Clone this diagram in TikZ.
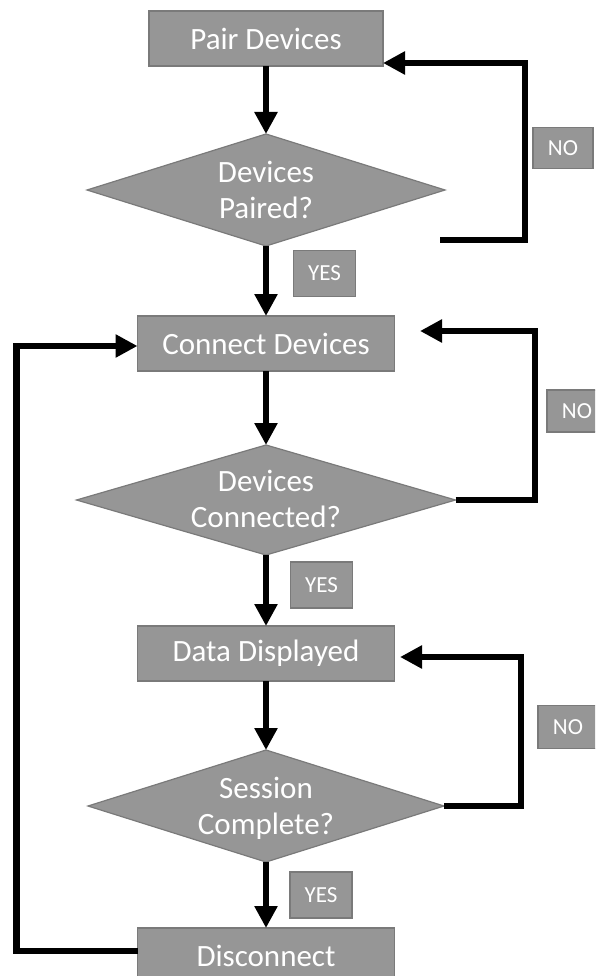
\documentclass[tikz,border=0pt]{standalone}
\usepackage{fontspec}
\setmainfont{Carlito}
\usetikzlibrary{shapes.geometric,arrows.meta}
\definecolor{boxfill}{RGB}{150,150,150}
\definecolor{boxline}{RGB}{122,122,122}
\tikzset{
 procbox/.style={rectangle, fill=boxfill, draw=boxline, line width=1.2pt, minimum width=257pt, minimum height=55pt, inner sep=0pt, outer sep=0pt, text=white, font=\fontsize{31}{36}\selectfont},
 decbox/.style={diamond, fill=boxfill, draw=boxline, line width=1.2pt, inner sep=0pt, outer sep=0pt},
 dectext/.style={text=white, font=\fontsize{31}{36}\selectfont, align=center, inner sep=0pt},
 tagbox/.style={rectangle, fill=boxfill, draw=boxline, line width=1.2pt, minimum width=62pt, minimum height=46pt, inner sep=0pt, text=white, font=\fontsize{23}{26}\selectfont},
 flow/.style={line width=6.5pt, -{Triangle[length=22pt,width=22pt]}},
}
\begin{document}
\begin{tikzpicture}[x=1pt,y=-1pt]
\useasboundingbox (0,0) rectangle (595,976);
\clip (0,0) rectangle (595,976);
% process boxes
\node[procbox, minimum width=234pt] (pair) at (266,38.5) {Pair Devices};
\node[procbox] (conn) at (266,343.5) {Connect Devices};
\node[procbox] (data) at (266,653.5) {Data Displayed};
\node[procbox] (disc) at (266,955.5) {Disconnect};
% decisions
\node[decbox, minimum width=358pt, minimum height=112pt] (d1) at (266,190) {};
\node[dectext] (t1) at (266,190) {Devices\\Paired?};
\node[decbox, minimum width=379pt, minimum height=110pt] (d2) at (266,500) {};
\node[dectext] (t2) at (266,498.5) {Devices\\Connected?};
\node[decbox, minimum width=356pt, minimum height=112pt] (d3) at (266,806) {};
\node[dectext] (t3) at (266,808) {Session\\Complete?};
% tags
\node[tagbox] (y1) at (324.5,273.5) {YES};
\node[tagbox] (y2) at (321.5,585) {YES};
\node[tagbox] (y3) at (321,895) {YES};
\node[tagbox, minimum width=60pt, minimum height=41pt] (no1) at (563,148) {NO};
\node[tagbox, minimum width=60pt, minimum height=42pt] (no2) at (577,411) {NO};
\node[tagbox, minimum width=60pt, minimum height=43pt] (no3) at (568,727) {NO};
% main flow
\draw[flow] (pair.south) -- (d1.north);
\draw[flow] (d1.south) -- (conn.north);
\draw[flow] (conn.south) -- (d2.north);
\draw[flow] (d2.south) -- (data.north);
\draw[flow] (data.south) -- (d3.north);
\draw[flow] (d3.south) -- (disc.north);
% NO loops
\coordinate (n1a) at (440,240);
\coordinate (n1b) at (525,63);
\draw[flow] (n1a) -| (n1b) -- (pair.east |- n1b);
\coordinate (n2b) at (535,331);
\coordinate (n2e) at (420,331);
\draw[flow] (d2.east) -| (n2b) -- (n2e);
\coordinate (n3b) at (521,657);
\coordinate (n3e) at (400,657);
\draw[flow] (d3.east) -| (n3b) -- (n3e);
% return loop
\coordinate (lb) at (16.5,951);
\coordinate (lt) at (16.5,346);
\draw[flow] (disc.west |- lb) -- (lb) -- (lt) -- (conn.west |- lt);
\end{tikzpicture}
\end{document}
